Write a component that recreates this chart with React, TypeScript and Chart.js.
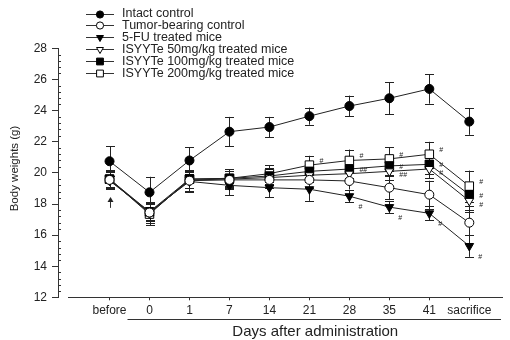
import React, { useEffect, useRef } from "react";
import { Chart, registerables } from "chart.js";
import { drawPoint } from "chart.js/helpers";

Chart.register(...registerables);

const categories = ["before", "0", "1", "7", "14", "21", "28", "35", "41", "sacrifice"];

const seriesNames = [
  "Intact control",
  "Tumor-bearing control",
  "5-FU treated mice",
  "ISYYTe 50mg/kg treated mice",
  "ISYYTe 100mg/kg treated mice",
  "ISYYTe 200mg/kg treated mice",
];

const intact = [20.75, 18.75, 20.8, 22.65, 22.95, 23.65, 24.3, 24.8, 25.4, 23.3];
const intactErr = [0.95, 1.0, 0.85, 0.95, 0.65, 0.55, 0.67, 1.03, 0.95, 0.85];

const tumor = [19.55, 17.45, 19.5, 19.55, 19.55, 19.55, 19.48, 19.05, 18.6, 16.8];
const tumorErr = [0.6, 0.7, 0.7, 0.6, 0.5, 0.5, 0.55, 0.75, 0.9, 0.8];

const fu = [19.5, 17.5, 19.45, 19.2, 19.05, 18.95, 18.5, 17.8, 17.4, 15.3];
const fuErr = [0.55, 0.6, 0.6, 0.65, 0.6, 0.75, 0.4, 0.4, 0.45, 0.7];

const isy50 = [19.6, 17.4, 19.55, 19.6, 19.7, 19.85, 19.95, 20.1, 20.25, 18.2];
const isy50Err = [0.5, 0.6, 0.5, 0.5, 0.5, 0.45, 0.5, 0.55, 0.6, 0.7];

const isy100 = [19.6, 17.5, 19.6, 19.65, 19.8, 20.1, 20.25, 20.45, 20.55, 18.6];
const isy100Err = [0.5, 0.55, 0.55, 0.5, 0.5, 0.5, 0.55, 0.6, 0.6, 0.75];

const isy200 = [19.6, 17.35, 19.6, 19.65, 19.95, 20.5, 20.8, 20.9, 21.2, 19.15];
const isy200Err = [0.6, 0.7, 0.6, 0.6, 0.55, 0.6, 0.7, 0.75, 0.8, 1.0];

const fuMarks = ["", "", "", "", "", "", "#", "#", "#", "#"];
const isy50Marks = ["", "", "", "", "", "", "", "##", "#", "#"];
const isy100Marks = ["", "", "", "", "", "", "##", "#", "#", "#"];
const isy200Marks = ["", "", "", "", "", "#", "#", "#", "#", "#"];
const noMarks = ["", "", "", "", "", "", "", "", "", ""];

const yTicks = [12, 14, 16, 18, 20, 22, 24, 26, 28];
const arrowFrom = 17.75;
const arrowTo = 18.45;

const FONT = "'Liberation Sans', Arial, sans-serif";

const styles = [
  { pointStyle: "circle", rotation: 0, fill: "#000", radius: 4.5, dx: 10, dy: 0 },
  { pointStyle: "circle", rotation: 0, fill: "#fff", radius: 4.5, dx: 10, dy: 0 },
  { pointStyle: "triangle", rotation: 180, fill: "#000", radius: 5, dx: 9, dy: 11 },
  { pointStyle: "triangle", rotation: 180, fill: "#fff", radius: 5, dx: 10, dy: 4 },
  { pointStyle: "rect", rotation: 0, fill: "#000", radius: 6, dx: 10, dy: 1 },
  { pointStyle: "rect", rotation: 0, fill: "#fff", radius: 6, dx: 10, dy: -4 },
];

const values = [intact, tumor, fu, isy50, isy100, isy200];
const errors = [intactErr, tumorErr, fuErr, isy50Err, isy100Err, isy200Err];
const marks = [noMarks, noMarks, fuMarks, isy50Marks, isy100Marks, isy200Marks];

const decorPlugin = {
  id: "decor",
  beforeDatasetsDraw(chart: any) {
    const ctx = chart.ctx;
    const xs = chart.scales.x;
    const ys = chart.scales.y;
    ctx.save();
    ctx.strokeStyle = "#222";
    ctx.lineWidth = 1;
    errors.forEach((errArr, si) => {
      errArr.forEach((e, i) => {
        const v = values[si][i];
        const px = Math.round(xs.getPixelForValue(i)) + 0.5;
        const top = ys.getPixelForValue(v + e);
        const bot = ys.getPixelForValue(v - e);
        ctx.beginPath();
        ctx.moveTo(px, top);
        ctx.lineTo(px, bot);
        ctx.moveTo(px - 4.5, Math.round(top) + 0.5);
        ctx.lineTo(px + 4.5, Math.round(top) + 0.5);
        ctx.moveTo(px - 4.5, Math.round(bot) + 0.5);
        ctx.lineTo(px + 4.5, Math.round(bot) + 0.5);
        ctx.stroke();
      });
    });
    ctx.restore();
  },
  afterDatasetsDraw(chart: any) {
    const ctx = chart.ctx;
    const xs = chart.scales.x;
    const ys = chart.scales.y;
    const area = chart.chartArea;
    ctx.save();
    ctx.strokeStyle = "#333";
    ctx.fillStyle = "#222";
    ctx.lineWidth = 1;
    // x-axis baseline (offset from y axis)
    ctx.beginPath();
    ctx.moveTo(68, Math.round(area.bottom) + 0.5);
    ctx.lineTo(area.right, Math.round(area.bottom) + 0.5);
    ctx.stroke();
    // minor y ticks
    ctx.beginPath();
    for (let k = 0; k <= 40; k++) {
      const v = 12 + k * 0.4;
      if (Math.abs(v - Math.round(v / 2) * 2) < 1e-6) continue;
      const py = Math.round(ys.getPixelForValue(v)) + 0.5;
      ctx.moveTo(area.left, py);
      ctx.lineTo(area.left + 3, py);
    }
    ctx.stroke();
    // underline for days
    const x0 = (xs.getPixelForValue(0) + xs.getPixelForValue(1)) / 2 - 2;
    ctx.beginPath();
    ctx.moveTo(x0, 319.5);
    ctx.lineTo(area.right - 2, 319.5);
    ctx.stroke();
    // x title
    ctx.font = `15px ${FONT}`;
    ctx.textAlign = "center";
    ctx.textBaseline = "middle";
    ctx.fillStyle = "#222";
    ctx.fillText("Days after administration", (x0 + area.right) / 2, 332);
    // significance marks
    ctx.font = `7px ${FONT}`;
    ctx.textAlign = "left";
    marks.forEach((m, si) => {
      m.forEach((txt, i) => {
        if (!txt) return;
        const px = xs.getPixelForValue(i) + styles[si].dx;
        const py = ys.getPixelForValue(values[si][i]) + styles[si].dy;
        ctx.fillText(txt, px, py);
      });
    });
    // arrow at "before"
    const ax = Math.round(xs.getPixelForValue(0)) + 0.5;
    const ay0 = ys.getPixelForValue(arrowFrom);
    const ay1 = ys.getPixelForValue(arrowTo);
    ctx.beginPath();
    ctx.moveTo(ax, ay0);
    ctx.lineTo(ax, ay1 + 2);
    ctx.stroke();
    ctx.beginPath();
    ctx.moveTo(ax, ay1);
    ctx.lineTo(ax - 3, ay1 + 5);
    ctx.lineTo(ax + 3, ay1 + 5);
    ctx.closePath();
    ctx.fill();
    // y title
    ctx.save();
    ctx.translate(15, 168.5);
    ctx.rotate(-Math.PI / 2);
    ctx.font = `11.5px ${FONT}`;
    ctx.textAlign = "center";
    ctx.textBaseline = "middle";
    ctx.fillText("Body weights (g)", 0, 0);
    ctx.restore();
    // legend
    ctx.font = `12.5px ${FONT}`;
    ctx.textAlign = "left";
    ctx.textBaseline = "middle";
    chart.data.datasets.forEach((ds: any, si: number) => {
      const y = 13.5 + si * 11.9;
      ctx.strokeStyle = "#333";
      ctx.beginPath();
      ctx.moveTo(86, Math.round(y) + 0.5);
      ctx.lineTo(114, Math.round(y) + 0.5);
      ctx.stroke();
      const st = styles[si];
      ctx.fillStyle = st.fill;
      ctx.strokeStyle = "#000";
      drawPoint(ctx, {
        pointStyle: st.pointStyle,
        rotation: st.rotation,
        radius: st.radius * 0.8,
        borderWidth: 1,
      } as any, 100, Math.round(y) + 0.5);
      ctx.fillStyle = "#222";
      ctx.fillText(ds.label, 122, y + 0.5);
    });
    ctx.restore();
  },
};

export default function App() {
  const ref = useRef<HTMLCanvasElement | null>(null);
  useEffect(() => {
    if (!ref.current) return;
    const datasets = values.map((arr, si) => ({
      label: seriesNames[si],
      data: arr.map((v, i) => ({ x: i, y: v })),
      borderColor: "#222",
      borderWidth: 1,
      backgroundColor: styles[si].fill,
      pointBackgroundColor: styles[si].fill,
      pointBorderColor: "#000",
      pointBorderWidth: 1,
      pointStyle: styles[si].pointStyle,
      pointRotation: styles[si].rotation,
      pointRadius: styles[si].radius,
      pointHoverRadius: styles[si].radius,
      tension: 0,
      fill: false,
    }));
    const chart = new Chart(ref.current, {
      type: "line",
      data: { datasets: datasets as any },
      plugins: [decorPlugin],
      options: {
        animation: false,
        responsive: false,
        devicePixelRatio: 1,
        layout: { padding: { top: 48.5, right: 3, left: 0, bottom: 0 } },
        plugins: { legend: { display: false }, tooltip: { enabled: false } },
        scales: {
          x: {
            type: "linear",
            min: -1.289,
            max: 9.843,
            afterBuildTicks: (scale: any) => {
              scale.ticks = categories.map((_, i) => ({ value: i }));
            },
            afterFit: (scale: any) => {
              scale.height = 42.7;
            },
            border: { display: false },
            grid: {
              display: true,
              drawOnChartArea: false,
              drawTicks: true,
              tickLength: 3,
              color: "#333",
            },
            ticks: {
              autoSkip: false,
              maxRotation: 0,
              padding: 3,
              color: "#222",
              font: { family: FONT, size: 12 },
              callback: (v: any) => categories[v as number] ?? "",
            },
          },
          y: {
            type: "linear",
            min: 12,
            max: 28,
            afterBuildTicks: (scale: any) => {
              scale.ticks = yTicks.map((v) => ({ value: v }));
            },
            afterFit: (scale: any) => {
              scale.width = 58;
            },
            border: { display: true, color: "#333", width: 1 },
            grid: {
              display: true,
              drawOnChartArea: false,
              drawTicks: true,
              tickLength: 6,
              color: "#333",
            },
            ticks: {
              padding: 5,
              color: "#222",
              font: { family: FONT, size: 12 },
            },
          },
        },
      },
    });
    return () => chart.destroy();
  }, []);
  return (
    <div style={{ position: "absolute", left: 0, top: 0, width: 510, height: 340, background: "#fff" }}>
      <canvas ref={ref} width={510} height={340} style={{ width: 510, height: 340, display: "block" }} />
    </div>
  );
}
